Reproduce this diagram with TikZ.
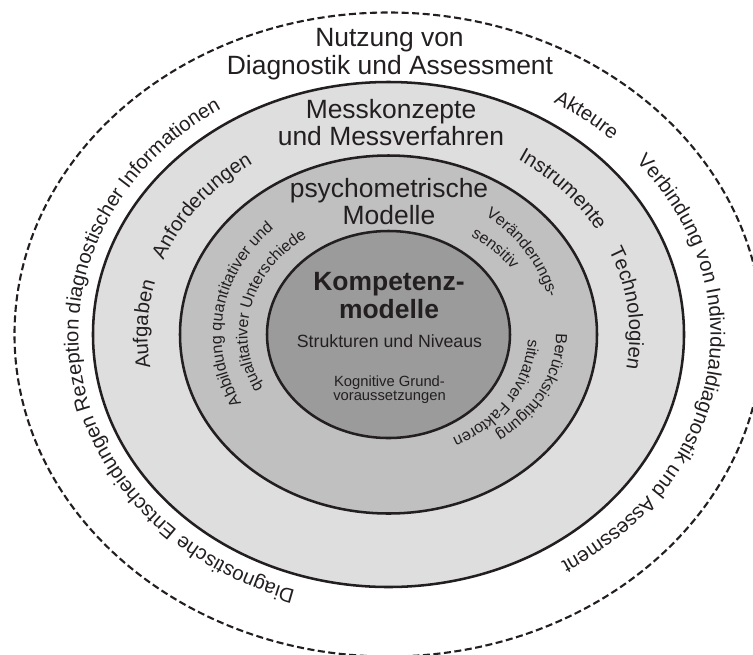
\documentclass[tikz,border=0pt]{standalone}
\usepackage{fontspec}
\setmainfont{Liberation Sans}
\usetikzlibrary{decorations.text}
\definecolor{ink}{RGB}{35,31,32}
\definecolor{ringouter}{RGB}{222,222,222}
\definecolor{ringmid}{RGB}{192,192,192}
\definecolor{ringcore}{RGB}{155,155,155}
\newcommand{\bigfont}{\fontsize{18.8}{20}\selectfont}
\newcommand{\midfont}{\fontsize{12.6}{14}\selectfont}
\newcommand{\smallfont}{\fontsize{10.5}{12}\selectfont}
\newcommand{\ringfont}{\fontsize{14.4}{16}\selectfont}
\newcommand{\innerfont}{\fontsize{11.4}{13}\selectfont}

\begin{document}
\begin{tikzpicture}[x=0.025cm, y=0.025cm,
    every node/.style={text=ink, inner sep=0pt, anchor=base},
    ring/.style={draw=ink, line width=1.8pt},
    arctext/.style={decorate, decoration={text along path, text align=center, text color=ink, text={#1}}}]

    \clip (-388.5,-319.5) rectangle (364.5,334.5);
    \coordinate (c) at (0,0);

    \filldraw[ring, fill=ringouter] (c) ellipse [x radius=295.5, y radius=252.5];
    \filldraw[ring, fill=ringmid] (c) ellipse [x radius=208.5, y radius=179];
    \filldraw[ring, fill=ringcore] (c) ellipse [x radius=121.5, y radius=103.5];
    \draw[ink, line width=1.5pt, dash pattern=on 5pt off 2.5pt] (c) ellipse [x radius=374, y radius=322];

    \node[font=\bigfont] (nutzA) at (1,288.5) {Nutzung von};
    \node[font=\bigfont] (nutzB) at (1.5,260.5) {Diagnostik und Assessment};

    \node[font=\bigfont] (messA) at (2.5,216.5) {Messkonzepte};
    \node[font=\bigfont] (messB) at (2.5,189.5) {und Messverfahren};

    \node[font=\bigfont] (psyA) at (0.5,137) {psychometrische};
    \node[font=\bigfont] (psyB) at (0.5,110.5) {Modelle};

    \node[font=\bigfont\bfseries] (kompA) at (0.5,44.5) {Kompetenz-};
    \node[font=\bigfont\bfseries] (kompB) at (0.5,16.5) {modelle};
    \node[font=\midfont] (strukt) at (1,-12.5) {Strukturen und Niveaus};
    \node[font=\smallfont] (kogA) at (1,-51.5) {Kognitive Grund-};
    \node[font=\smallfont] (kogB) at (1,-65.5) {voraussetzungen};

    \path[arctext={|\ringfont|Diagnostische Entscheidungen Rezeption diagnostischer Informationen}]
        (c) ++(259:310 and 268) arc[start angle=259, end angle=116, x radius=310, y radius=268];
    \path[arctext={|\ringfont|Akteure}]
        (c) ++(69:322 and 270) arc[start angle=69, end angle=35.6, x radius=322, y radius=270];
    \path[arctext={|\ringfont|Verbindung von Individualdiagnostik und Assessment}]
        (c) ++(48:322 and 270) arc[start angle=48, end angle=-65.5, x radius=322, y radius=270];

    \path[arctext={|\ringfont|Anforderungen}]
        (c) ++(169.5:241 and 207) arc[start angle=169.5, end angle=114.75, x radius=241, y radius=207];
    \path[arctext={|\ringfont|Aufgaben}]
        (c) ++(199.3:241 and 207) arc[start angle=199.3, end angle=155.3, x radius=241, y radius=207];
    \path[arctext={|\ringfont|Instrumente}]
        (c) ++(67:241 and 207) arc[start angle=67, end angle=19.7, x radius=241, y radius=207];
    \path[arctext={|\ringfont|Technologien}]
        (c) ++(34:241 and 207) arc[start angle=34, end angle=-19.9, x radius=241, y radius=207];

    \path[arctext={|\innerfont|Abbildung quantitativer und}]
        (c) ++(219:167 and 145) arc[start angle=219, end angle=123, x radius=167, y radius=145];
    \path[arctext={|\innerfont|qualitativer Unterschiede}]
        (c) ++(216:141 and 119) arc[start angle=216, end angle=117, x radius=141, y radius=119];
    \path[arctext={|\innerfont|Veränderungs-}]
        (c) ++(64:165 and 147) arc[start angle=64, end angle=3.5, x radius=165, y radius=147];
    \path[arctext={|\innerfont|sensitiv}]
        (c) ++(65:148 and 118) arc[start angle=65, end angle=23.4, x radius=148, y radius=118];
    \path[arctext={|\innerfont|Berücksichtigung}]
        (c) ++(9:167.5 and 128) arc[start angle=9, end angle=-57.5, x radius=167.5, y radius=128];
    \path[arctext={|\innerfont|situativer Faktoren}]
        (c) ++(7.3:139.6 and 117) arc[start angle=7.3, end angle=-71, x radius=139.6, y radius=117];

\end{tikzpicture}
\end{document}
